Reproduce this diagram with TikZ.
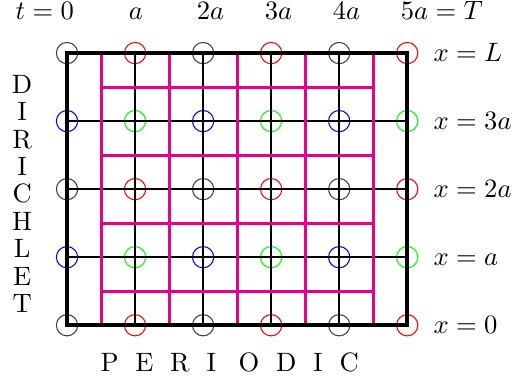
\documentclass[tikz,border=0pt]{standalone}
\definecolor{meshpink}{RGB}{230,0,140}
\begin{document}
\begin{tikzpicture}[x=0.9cm, y=0.9cm,
        pt/.style={circle, draw, minimum size=8pt, inner sep=0pt, line width=0.4pt},
        gridline/.style={line width=0.8pt},
        mesh/.style={meshpink, line width=1.1pt},
        frame/.style={line width=1.5pt},
        tlabel/.style={anchor=base west, inner sep=0pt}]
        \useasboundingbox (-0.985,-0.85) rectangle (6.54,4.78);
        % grid points
        \foreach \j in {0,2,4} {
            \foreach \i in {0,2,4} \node[pt, draw=black!75] (c-\i-\j) at (\i,\j) {};
            \foreach \i in {1,3,5} \node[pt, draw=red] (c-\i-\j) at (\i,\j) {};
        }
        \foreach \j in {1,3} {
            \foreach \i in {0,2,4} \node[pt, draw=blue] (c-\i-\j) at (\i,\j) {};
            \foreach \i in {1,3,5} \node[pt, draw=green] (c-\i-\j) at (\i,\j) {};
        }
        % black grid
        \foreach \i in {1,...,4} \draw[gridline] (c-\i-0.center) -- (c-\i-4.center);
        \foreach \j in {1,2,3} \draw[gridline] (c-0-\j.center) -- (c-5-\j.center);
        % staggered mesh
        \foreach \i in {0.5,1.5,...,4.5} \draw[mesh] (\i,0) -- (\i,4);
        \foreach \j in {0.5,1.5,2.5,3.5} \draw[mesh] (0.5,\j) -- (4.5,\j);
        \draw[frame] (c-0-0.center) rectangle (c-5-4.center);
        % labels
        \node[tlabel] (t0) at (-0.1,4.5) {$\llap{$t={}$}0$};
        \foreach \i/\t in {1/a,2/2a,3/3a,4/4a} \node[tlabel] (t\i) at (\i-0.1,4.5) {$\t$};
        \node[tlabel] (t5) at (4.9,4.5) {$5a\rlap{${}=T$}$};
        \foreach \j/\t in {0/0,1/a,2/2a,3/3a,4/L} \node[tlabel] (x\j) at (5.38,\j-0.12) {$x=\t$};
        \node[align=center, font=\fontsize{10}{10.3}\selectfont] (dir) at (-0.66,1.93) {D\\I\\R\\I\\C\\H\\L\\E\\T};
        \node[anchor=base] (per) at (2.39,-0.68) {P\hspace{6.3pt}E\hspace{6.3pt}R\hspace{6.3pt}I\hspace{8.5pt}O\hspace{6.3pt}D\hspace{6.3pt}I\hspace{6.3pt}C};
    \end{tikzpicture}
\end{document}
